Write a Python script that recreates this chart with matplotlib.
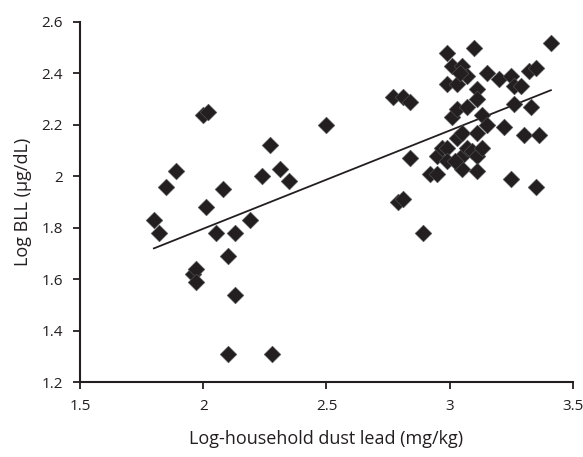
import numpy as np
import matplotlib.pyplot as plt

plt.rcParams['font.family'] = ['Open Sans', 'DejaVu Sans']

# log household dust lead (x) vs log blood lead level (y)
dust = [1.80, 1.82, 1.85, 1.89, 1.96, 1.97, 1.97, 2.00, 2.02, 2.01, 2.05, 2.08,
        2.10, 2.10, 2.13, 2.13, 2.19, 2.24, 2.27, 2.31, 2.35, 2.28, 2.50,
        2.77, 2.81, 2.84, 2.79, 2.81, 2.84, 2.89,
        2.92, 2.95, 2.95, 2.97, 2.99, 2.99, 2.99, 2.99, 3.01, 3.01, 3.03, 3.03,
        3.03, 3.05, 3.05, 3.05, 3.05, 3.07, 3.07, 3.07, 3.09, 3.10, 3.11, 3.11,
        3.11, 3.11, 3.11, 3.13, 3.13, 3.15, 3.15, 3.20, 3.22, 3.25, 3.25, 3.26,
        3.26, 3.29, 3.30, 3.32, 3.33, 3.35, 3.35, 3.36, 3.41, 3.04, 3.02]
bll = [1.83, 1.78, 1.96, 2.02, 1.62, 1.64, 1.59, 2.24, 2.25, 1.88, 1.78, 1.95,
       1.69, 1.31, 1.78, 1.54, 1.83, 2.00, 2.12, 2.03, 1.98, 1.31, 2.20,
       2.31, 2.31, 2.29, 1.90, 1.91, 2.07, 1.78,
       2.01, 2.01, 2.08, 2.11, 2.11, 2.06, 2.36, 2.48, 2.43, 2.23, 2.36, 2.26,
       2.15, 2.43, 2.17, 2.08, 2.03, 2.27, 2.11, 2.39, 2.10, 2.50, 2.34, 2.30,
       2.17, 2.08, 2.02, 2.24, 2.11, 2.40, 2.20, 2.38, 2.19, 2.39, 1.99, 2.28,
       2.35, 2.35, 2.16, 2.41, 2.27, 2.42, 1.96, 2.16, 2.52, 2.40, 2.06]

# linear trend as drawn in the figure
trend_slope = 0.382
trend_intercept = 1.032

dust = np.array(dust)
bll = np.array(bll)
xfit = np.array([dust.min(), dust.max()])

ink = '#231f20'
fig = plt.figure(figsize=(5.83, 4.57), dpi=100)
ax = fig.add_axes([0.137, 0.164, 0.846, 0.788])
ax.scatter(dust, bll, marker='D', s=72, c=ink, edgecolors='#555555', linewidths=0.4, zorder=3)
ax.plot(xfit, trend_intercept + trend_slope * xfit, c=ink, lw=1.3, zorder=2)

ax.set_xlim(1.5, 3.5)
ax.set_ylim(1.2, 2.6)
ax.set_xticks([1.5, 2, 2.5, 3, 3.5])
ax.set_xticklabels(['1.5', '2', '2.5', '3', '3.5'])
ax.set_yticks([1.2, 1.4, 1.6, 1.8, 2.0, 2.2, 2.4, 2.6])
ax.set_yticklabels(['1.2', '1.4', '1.6', '1.8', '2', '2.2', '2.4', '2.6'])
for s in ['top', 'right']:
    ax.spines[s].set_visible(False)
for s in ['left', 'bottom']:
    ax.spines[s].set_linewidth(1.5)
    ax.spines[s].set_color(ink)
ax.tick_params(direction='out', length=5, width=1.3, color=ink, labelsize=11, labelcolor=ink, pad=7)
ax.set_xlabel('Log-household dust lead (mg/kg)', fontsize=13, color=ink, labelpad=12)
ax.set_ylabel('Log BLL (µg/dL)', fontsize=13, color=ink, labelpad=7)

fig.savefig('out.png', dpi=100)
